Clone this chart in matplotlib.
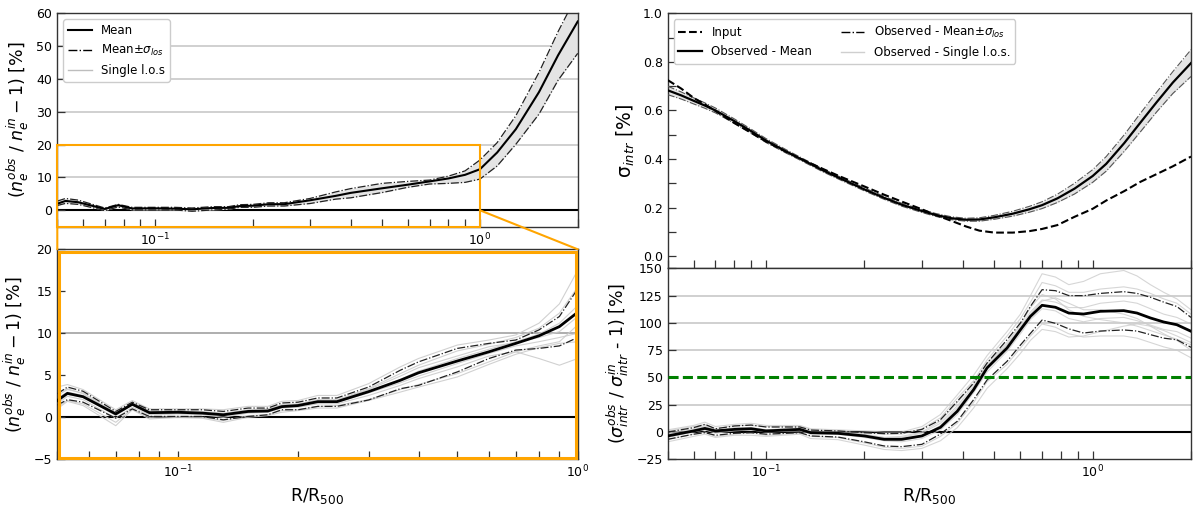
import numpy as np
import matplotlib
matplotlib.use('Agg')
import matplotlib.pyplot as plt
from matplotlib.patches import Rectangle, ConnectionPatch
from matplotlib.lines import Line2D
from matplotlib.ticker import MultipleLocator, NullFormatter

# ---------------- data: density ratio (left column) ----------------
x_ne = [0.05, 0.053, 0.058, 0.07, 0.077, 0.085, 0.1, 0.115, 0.13, 0.15, 0.168, 0.182, 0.2,
        0.224, 0.25, 0.3, 0.36, 0.4, 0.5, 0.6, 0.7, 0.8, 0.9, 1.0, 1.13, 1.29, 1.52, 1.74, 2.0]
ne_mean = [2.0, 2.85, 2.45, 0.4, 1.55, 0.55, 0.6, 0.5, 0.3, 0.7, 0.75, 1.27, 1.4,
           1.86, 1.86, 3.05, 4.4, 5.3, 6.7, 7.8, 8.8, 9.7, 10.8, 12.5, 17.6, 24.7, 36.0, 47.2, 57.5]
ne_upper = [2.8, 3.6, 3.1, 0.7, 1.8, 0.9, 0.9, 0.9, 0.7, 1.1, 1.1, 1.7, 1.8,
            2.3, 2.3, 3.6, 5.6, 6.6, 8.2, 8.8, 9.2, 10.4, 12.0, 15.3, 20.6, 28.8, 42.0, 54.4, 66.0]
ne_lower = [1.45, 2.1, 1.8, -0.1, 1.0, 0.1, 0.1, 0.1, -0.3, 0.1, 0.3, 0.9, 0.9,
            1.3, 1.3, 2.06, 3.4, 3.8, 5.4, 7.0, 8.0, 8.2, 8.5, 9.5, 13.5, 20.1, 29.3, 39.6, 47.8]
ne_single = [
    [3.6, 3.9, 3.3, 0.9, 2.0, 1.0, 1.0, 1.0, 0.9, 1.3, 1.3, 1.9, 2.0, 2.6, 2.6, 4.0, 6.0, 7.0, 8.6, 9.2, 9.8, 11.2, 13.5, 17.5, 23, 31, 45, 57, 69],
    [2.6, 3.3, 2.9, 0.5, 1.7, 0.7, 0.8, 0.7, 0.5, 0.9, 1.0, 1.5, 1.6, 2.1, 2.1, 3.4, 5.2, 6.2, 7.9, 8.7, 9.5, 10.6, 12.4, 15.5, 21, 29, 42, 54, 65],
    [1.8, 2.7, 2.4, 0.2, 1.5, 0.5, 0.5, 0.4, 0.2, 0.6, 0.7, 1.2, 1.4, 1.8, 1.9, 3.1, 4.5, 5.5, 7.0, 8.1, 9.0, 9.9, 11.2, 13.3, 18.5, 25.5, 37, 48, 58],
    [1.2, 2.0, 1.6, -0.6, 1.0, 0.0, 0.1, 0.0, -0.4, 0.2, 0.3, 0.8, 0.9, 1.3, 1.4, 2.1, 3.3, 3.9, 5.2, 6.6, 7.8, 8.5, 9.0, 11.0, 15.5, 22, 32, 43, 52],
    [2.3, 3.0, 2.6, 0.6, 1.6, 0.6, 0.7, 0.6, 0.4, 0.8, 0.8, 1.3, 1.5, 1.9, 2.0, 3.3, 4.9, 5.9, 7.3, 8.4, 8.9, 9.5, 10.2, 12.0, 16.8, 23.5, 34, 45, 55],
    [1.6, 2.5, 2.1, -0.1, 1.2, 0.3, 0.4, 0.3, 0.0, 0.5, 0.6, 1.1, 1.2, 1.6, 1.6, 2.6, 3.8, 4.6, 6.0, 7.3, 7.8, 7.0, 6.2, 7.0, 12.5, 19, 28, 38, 47],
    [2.9, 3.4, 2.8, 0.3, 1.8, 0.8, 0.6, 0.5, 0.4, 0.7, 0.9, 1.4, 1.5, 2.0, 1.8, 2.9, 4.1, 4.9, 6.4, 7.6, 8.5, 9.0, 9.5, 10.0, 14.5, 21, 31, 41, 50],
    [1.0, 1.9, 1.4, -1.0, 0.9, -0.2, 0.0, -0.1, -0.6, 0.0, 0.2, 0.6, 0.8, 1.1, 1.1, 2.0, 3.0, 3.6, 4.8, 6.3, 7.5, 8.3, 8.8, 9.0, 13.8, 20.5, 30, 40, 49],
]

# ---------------- data: intrinsic scatter (right top) ----------------
x_sig = [0.05, 0.055, 0.06, 0.065, 0.07, 0.08, 0.09, 0.1, 0.115, 0.13, 0.15, 0.17, 0.2, 0.23, 0.26,
         0.3, 0.33, 0.37, 0.41, 0.45, 0.5, 0.57, 0.64, 0.7, 0.78, 0.88, 1.0, 1.1, 1.25, 1.4, 1.57, 1.76, 2.0]
sig_mean = [0.683, 0.662, 0.640, 0.620, 0.600, 0.556, 0.515, 0.476, 0.432, 0.395, 0.352, 0.318, 0.275, 0.240, 0.212,
            0.186, 0.170, 0.156, 0.150, 0.151, 0.160, 0.175, 0.193, 0.210, 0.238, 0.278, 0.330, 0.380, 0.466, 0.550, 0.634, 0.715, 0.795]
sig_upper = [0.700, 0.676, 0.652, 0.631, 0.610, 0.565, 0.523, 0.484, 0.439, 0.401, 0.358, 0.324, 0.281, 0.246, 0.218,
             0.192, 0.176, 0.162, 0.156, 0.158, 0.168, 0.185, 0.205, 0.224, 0.255, 0.300, 0.356, 0.410, 0.500, 0.588, 0.675, 0.760, 0.850]
sig_lower = [0.665, 0.647, 0.627, 0.609, 0.590, 0.547, 0.507, 0.468, 0.425, 0.389, 0.346, 0.312, 0.269, 0.234, 0.206,
             0.180, 0.164, 0.150, 0.144, 0.144, 0.152, 0.165, 0.181, 0.196, 0.221, 0.256, 0.304, 0.350, 0.432, 0.512, 0.594, 0.670, 0.740]
sig_input = [0.725, 0.690, 0.652, 0.625, 0.598, 0.548, 0.508, 0.472, 0.430, 0.396, 0.358, 0.326, 0.287, 0.253, 0.225,
             0.193, 0.170, 0.145, 0.122, 0.105, 0.097, 0.097, 0.103, 0.112, 0.128, 0.162, 0.195, 0.229, 0.268, 0.306, 0.338, 0.370, 0.410]

# ---------------- data: scatter ratio (right bottom) ----------------
x_rat = [0.05, 0.06, 0.065, 0.07, 0.08, 0.09, 0.1, 0.127, 0.137, 0.166, 0.2, 0.23, 0.26, 0.3, 0.342, 0.385,
         0.432, 0.475, 0.547, 0.601, 0.645, 0.70, 0.769, 0.845, 0.938, 1.056, 1.245, 1.367, 1.502, 1.65, 1.81, 2.0]
rat_mean = [-3.6, 1, 3.3, 1, 2.4, 3, 1, 2.4, -0.6, -1.2, -3.6, -6.7, -6.7, -3.6, 4.3, 19,
            38.8, 58.7, 77, 93.7, 106, 116.1, 114.3, 109, 108.1, 110.6, 111.2, 109, 104.5, 100.8, 98.3, 92.3]
rat_upper = [0, 4, 7, 3, 5.5, 6.4, 4.6, 4.6, 1.8, 1, -0.6, -1.5, -1.2, 2.4, 11.3, 28.1,
             44.9, 63.2, 84.6, 99.9, 115.2, 130.4, 129.5, 125, 124.9, 127, 128.6, 127, 123.5, 119, 115, 105]
rat_lower = [-6.7, -2, -0.6, -3, -1.2, -0.6, -2, -0.6, -3.6, -4.6, -9, -12.8, -13.4, -11.3, -1.8, 9.8,
             29.6, 47.7, 64.8, 79.7, 90.4, 102.6, 99.6, 94.5, 90.7, 92.5, 93.5, 92.5, 89.2, 86, 84.5, 77.6]
rat_single = [
    [2, 6, 9, 5, 7, 8, 6, 6, 3, 2, 1, 0, 0, 5, 16, 34, 52, 70, 92, 108, 125, 145, 142, 135, 138, 145, 148, 143, 135, 128, 122, 112],
    [1, 5, 7, 3, 6, 6, 5, 5, 2, 1, -1, -2, -2, 3, 13, 31, 47, 66, 88, 104, 119, 137, 134, 128, 128, 131, 133, 131, 127, 122, 118, 108],
    [-2, 2, 5, 2, 3, 4, 2, 3, 0, -1, -3, -5, -5, -1, 8, 24, 42, 62, 80, 96, 110, 121, 119, 114, 114, 118, 120, 118, 113, 108, 105, 99],
    [-5, 0, 2, -1, 1, 2, 0, 1, -2, -2, -5, -8, -9, -6, 2, 16, 36, 55, 74, 90, 103, 113, 111, 104, 101, 104, 105, 102, 98, 94, 92, 86],
    [-7, -2, 0, -4, -2, -1, -3, -1, -4, -5, -10, -14, -15, -13, -4, 8, 27, 46, 62, 77, 88, 99, 96, 90, 87, 88, 88, 86, 82, 78, 75, 68],
    [-4, 1, 4, 0, 2, 3, 1, 2, -1, -1, -4, -7, -8, -4, 6, 22, 40, 60, 80, 95, 108, 120, 123, 118, 112, 112, 108, 104, 97, 90, 84, 75],
    [-1, 3, 6, 1, 4, 4, 2, 4, 1, 0, -2, -5, -4, 0, 10, 27, 44, 63, 82, 98, 114, 126, 122, 112, 106, 103, 100, 97, 93, 89, 85, 80],
    [-9, -4, -2, -5, -3, -3, -4, -2, -6, -7, -12, -16, -17, -15, -8, 4, 22, 40, 58, 72, 84, 94, 92, 87, 88, 92, 97, 99, 97, 93, 88, 82],
]

# ---------------- styling ----------------
SPINE = '#333333'
GRID = '#c8c8c8'
SINGLE = '#cccccc'
FILL = '#e4e4e4'
ORANGE = '#ffa500'
TICK_FS = 9
LAB_FS = 12.5
LEG_FS = 8.5

fig = plt.figure(figsize=(12, 5.07), dpi=100)
W, H = 1200.0, 507.0


def box(l, t, r, b):
    return [l / W, 1 - b / H, (r - l) / W, (b - t) / H]


ax1 = fig.add_axes(box(57.3, 13.3, 577.7, 226.7))
ax2 = fig.add_axes(box(57.3, 249.3, 577.7, 459.3))
ax3 = fig.add_axes(box(667.7, 13.3, 1191.0, 268.3))
ax4 = fig.add_axes(box(667.7, 268.3, 1191.0, 459.3))

for ax in (ax1, ax2, ax3, ax4):
    ax.set_xscale('log')
    ax.xaxis.set_minor_formatter(NullFormatter())
    ax.tick_params(which='both', direction='in', length=6, width=0.9, color=SPINE,
                   labelsize=TICK_FS, top=False, right=False)
    for s in ax.spines.values():
        s.set_color(SPINE)
        s.set_linewidth(1.0)

# ---- top-left ----
ax1.set_xlim(0.05, 2.0)
ax1.set_ylim(-5, 60)
ax1.yaxis.set_major_locator(MultipleLocator(10))
for yv in (10, 20, 30, 40, 50):
    ax1.axhline(yv, color=GRID, lw=1.2, zorder=0)
ax1.axhline(0, color='black', lw=1.5, zorder=1)
ax1.fill_between(x_ne, ne_lower, ne_upper, color=FILL, lw=0, zorder=1)
ax1.plot(x_ne, ne_upper, ls='-.', color='#222222', lw=0.9, zorder=3)
ax1.plot(x_ne, ne_lower, ls='-.', color='#222222', lw=0.9, zorder=3)
ax1.plot(x_ne, ne_mean, color='black', lw=1.5, zorder=4)
ax1.set_ylabel(r'$(n_e^{obs}\ /\ n_e^{in} - 1)$ [%]', fontsize=LAB_FS)
h_leg1 = [Line2D([], [], color='black', lw=1.5),
          Line2D([], [], color='black', lw=1.0, ls='-.'),
          Line2D([], [], color='#bdbdbd', lw=1.0)]
ax1.legend(h_leg1, ['Mean', r'Mean$\pm\sigma_{los}$', 'Single l.o.s'],
           loc='upper left', fontsize=LEG_FS, framealpha=1.0)

# orange zoom indicator
rect = Rectangle((0.05, -5), 1.0 - 0.05, 25, fill=False, edgecolor=ORANGE, lw=1.5,
                 zorder=5, clip_on=False)
ax1.add_patch(rect)

# ---- bottom-left ----
ax2.set_xlim(0.05, 1.0)
ax2.set_ylim(-5, 20)
ax2.yaxis.set_major_locator(MultipleLocator(5))
ax2.axhline(10, color='#a8a8a8', lw=1.3, zorder=0)
ax2.axhline(0, color='black', lw=1.5, zorder=1)
for ys in ne_single:
    ax2.plot(x_ne, ys, color=SINGLE, lw=0.8, alpha=0.9, zorder=2)
ax2.plot(x_ne, ne_upper, ls='-.', color='#222222', lw=0.9, zorder=3)
ax2.plot(x_ne, ne_lower, ls='-.', color='#222222', lw=0.9, zorder=3)
ax2.plot(x_ne, ne_mean, color='black', lw=2.0, zorder=4)
ax2.set_ylabel(r'$(n_e^{obs}\ /\ n_e^{in} - 1)$ [%]', fontsize=LAB_FS)
ax2.set_xlabel(r'R/R$_{500}$', fontsize=LAB_FS)
inner = Rectangle((0.004, 0.004), 0.992, 0.984, transform=ax2.transAxes, fill=False,
                  edgecolor=ORANGE, lw=2.2, zorder=6, clip_on=False)
ax2.add_patch(inner)

# connectors
con_l = ConnectionPatch(xyA=(0.05, -5), coordsA=ax1.transData,
                        xyB=(0.0, 1.0), coordsB=ax2.transAxes,
                        color=ORANGE, lw=1.5, zorder=6)
con_r = ConnectionPatch(xyA=(1.0, 0.0), coordsA=ax1.transData,
                        xyB=(1.0, 1.0), coordsB=ax2.transAxes,
                        color=ORANGE, lw=1.5, zorder=6)
fig.add_artist(con_l)
fig.add_artist(con_r)

# ---- top-right ----
ax3.set_xlim(0.05, 2.0)
ax3.set_ylim(-0.05, 1.0)
ax3.yaxis.set_major_locator(MultipleLocator(0.2))
ax3.yaxis.set_minor_locator(MultipleLocator(0.1))
ax3.tick_params(labelbottom=False)
ax3.fill_between(x_sig, sig_lower, sig_upper, color=FILL, lw=0, zorder=1)
ax3.plot(x_sig, sig_upper, ls='-.', color='#555555', lw=0.8, zorder=3)
ax3.plot(x_sig, sig_lower, ls='-.', color='#555555', lw=0.8, zorder=3)
ax3.plot(x_sig, sig_mean, color='black', lw=1.6, zorder=4)
ax3.plot(x_sig, sig_input, ls='--', color='black', lw=1.5, zorder=4)
ax3.set_ylabel(r'σ$_{intr}$ [%]', fontsize=LAB_FS + 1)
h_leg3 = [Line2D([], [], color='black', lw=1.5, ls='--'),
          Line2D([], [], color='black', lw=1.6),
          Line2D([], [], color='black', lw=1.0, ls='-.'),
          Line2D([], [], color='#cfcfcf', lw=1.0)]
ax3.legend(h_leg3, ['Input', 'Observed - Mean', r'Observed - Mean$\pm\sigma_{los}$',
                    'Observed - Single l.o.s.'],
           loc='upper left', ncol=2, fontsize=LEG_FS, framealpha=1.0, columnspacing=2.4)

# ---- bottom-right ----
ax4.set_xlim(0.05, 2.0)
ax4.set_ylim(-25, 150)
ax4.yaxis.set_major_locator(MultipleLocator(25))
for yv in (25, 75, 100, 125):
    ax4.axhline(yv, color=GRID, lw=1.2, zorder=0)
ax4.axhline(0, color='black', lw=1.5, zorder=1)
for ys in rat_single:
    ax4.plot(x_rat, ys, color=SINGLE, lw=0.8, alpha=0.8, zorder=2)
ax4.plot(x_rat, rat_upper, ls='-.', color='#222222', lw=0.9, zorder=3)
ax4.plot(x_rat, rat_lower, ls='-.', color='#222222', lw=0.9, zorder=3)
ax4.plot(x_rat, rat_mean, color='black', lw=2.0, zorder=4)
ax4.axhline(50, color='green', lw=2.2, ls=(0, (3.3, 1.4)), zorder=5)
ax4.set_ylabel(r'($\sigma_{intr}^{obs}$ / $\sigma_{intr}^{in}$ - 1) [%]', fontsize=LAB_FS)
ax4.set_xlabel(r'R/R$_{500}$', fontsize=LAB_FS)

fig.savefig('out.png', dpi=100)
